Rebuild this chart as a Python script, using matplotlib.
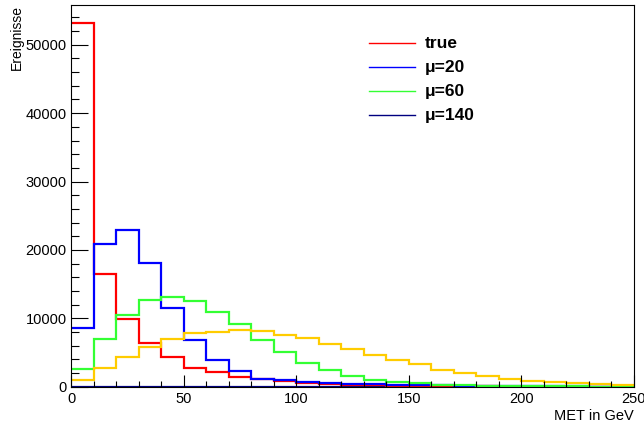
import numpy as np
from matplotlib import pyplot as plt
from matplotlib.ticker import MultipleLocator

plt.rcParams['font.family'] = ['Liberation Sans', 'DejaVu Sans']

# MET histograms, 25 bins of 10 GeV from 0 to 250
edges = np.arange(0, 251, 10)
h_true = [53200, 16430, 9850, 6430, 4340, 2800, 2100, 1460, 1080, 830, 590, 400,
          250, 180, 130, 90, 60, 40, 30, 20, 10, 10, 5, 5, 0]
h_mu20 = [8580, 20860, 22910, 18040, 11550, 6780, 3900, 2300, 1170, 930, 730, 500,
          440, 350, 290, 250, 200, 150, 100, 80, 60, 40, 30, 20, 10]
h_mu60 = [2590, 7020, 10530, 12680, 13160, 12550, 10880, 9120, 6780, 5120, 3510, 2390,
          1600, 1000, 690, 480, 290, 200, 130, 90, 60, 40, 30, 20, 10]
h_mu140 = [0] * 25
h_extra = [980, 2780, 4340, 5850, 6970, 7900, 8040, 8290, 8190, 7560, 7070, 6240,
           5470, 4650, 3950, 3270, 2490, 2050, 1610, 1170, 830, 640, 540, 390, 250]

labels = ["true", "\u03bc=20", "\u03bc=60", "\u03bc=140"]
colors = ["#ff0000", "#0000ff", "#33ff33", "#000080"]

W, H = 644, 424
fig = plt.figure(figsize=(W / 100, H / 100), dpi=100)
x0, x1, ytop, ybot = 71, 634, 4.7, 386.7
ax = fig.add_axes([x0 / W, (H - ybot) / H, (x1 - x0) / W, (ybot - ytop) / H])

# the mu=140 histogram sits on the axis, draw it underneath the others
ax.stairs(h_mu140, edges, baseline=None, color=colors[3], linewidth=1.6, zorder=1)
for vals, c in zip([h_true, h_mu20, h_mu60], colors[:3]):
    ax.stairs(vals, edges, baseline=None, color=c, linewidth=1.6)
ax.stairs(h_extra, edges, baseline=None, color="#ffcc00", linewidth=1.6)

ax.set_xlim(0, 250)
ax.set_ylim(0, 1.05 * max(h_true))

ax.xaxis.set_major_locator(MultipleLocator(50))
ax.xaxis.set_minor_locator(MultipleLocator(10))
ax.yaxis.set_major_locator(MultipleLocator(10000))
ax.yaxis.set_minor_locator(MultipleLocator(2000))
ax.tick_params(axis='x', which='major', direction='in', length=8.3, width=0.8,
               labelsize=10.5, pad=4)
ax.tick_params(axis='x', which='minor', direction='in', length=4.1, width=0.8)
ax.tick_params(axis='y', which='major', direction='in', length=12.2, width=0.8,
               labelsize=10.5, pad=3)
ax.tick_params(axis='y', which='minor', direction='in', length=6.1, width=0.8)
for s in ax.spines.values():
    s.set_linewidth(0.8)
    s.set_zorder(3)

ax.set_xlabel("MET in GeV", fontsize=10.5, loc='right', labelpad=2)
ax.set_ylabel("Ereignisse", fontsize=10, loc='top', labelpad=1)

# legend drawn by hand, no frame
for i, (lab, c) in enumerate(zip(labels, colors)):
    py = 43.3 + i * 24
    yf = (ybot - py) / (ybot - ytop)
    ax.plot([(369 - x0) / (x1 - x0), (415 - x0) / (x1 - x0)], [yf, yf],
            transform=ax.transAxes, color=c, linewidth=1.0)
    ax.text((425 - x0) / (x1 - x0), yf, lab, transform=ax.transAxes,
            fontsize=12.5, fontweight='bold', va='center', ha='left')

fig.savefig("out.png", dpi=100)
